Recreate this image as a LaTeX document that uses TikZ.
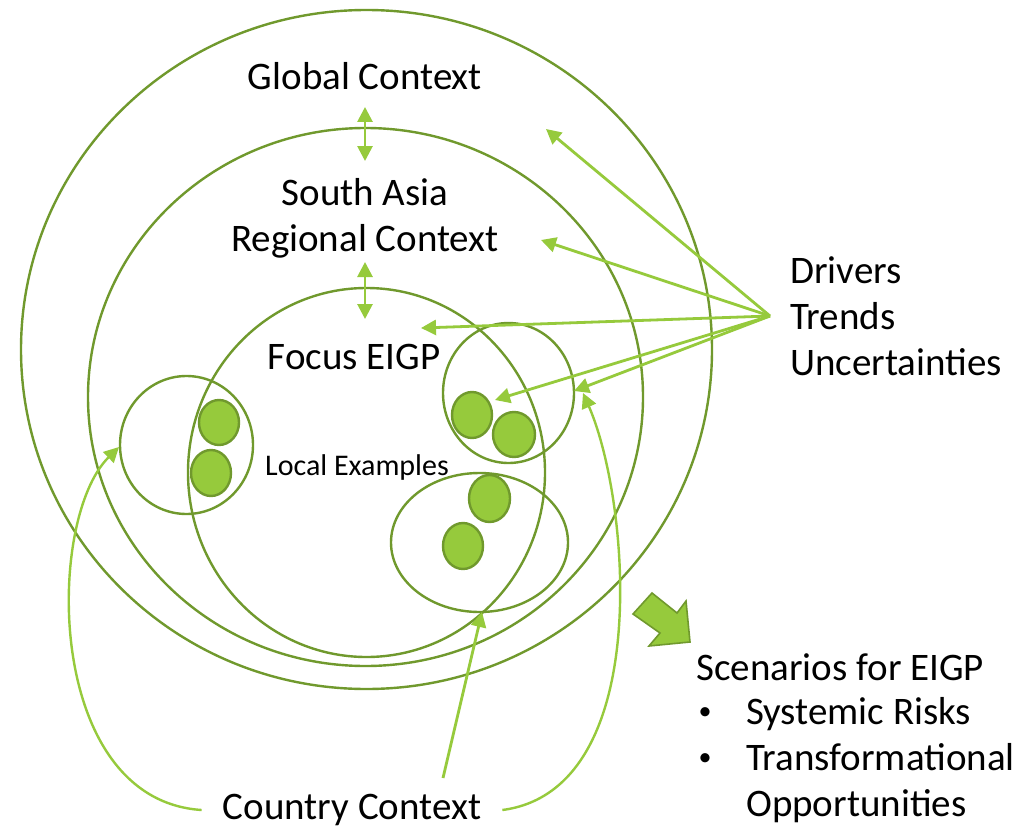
\documentclass[tikz,border=0pt]{standalone}
\usepackage{fontspec}
\setmainfont{Carlito}
\usetikzlibrary{shapes.geometric,arrows.meta}
\definecolor{ringgreen}{RGB}{112,153,45}
\definecolor{arrowgreen}{RGB}{150,202,60}
\begin{document}
\begin{tikzpicture}[x=1pt,y=-1pt,
  ring/.style={draw=ringgreen,line width=2.4pt,ellipse,inner sep=0pt},
  blob/.style={draw=ringgreen,line width=2.4pt,fill=arrowgreen,ellipse,inner sep=0pt},
  conn/.style={draw=arrowgreen,line width=2.8pt,-{Triangle[length=15pt,width=15pt]}},
  dconn/.style={draw=arrowgreen,line width=2.8pt,{Triangle[length=15pt,width=15pt]}-{Triangle[length=15pt,width=15pt]}},
  curve/.style={draw=arrowgreen,line width=2.4pt},
  big/.style={font=\fontsize{39}{46}\selectfont,inner sep=0pt},
  bul/.style={font=\fontsize{26}{30}\selectfont,inner sep=0pt},
  small/.style={font=\fontsize{30}{34}\selectfont,inner sep=0pt}]
\useasboundingbox (0,0) rectangle (1030,832);
\fill[white] (0,0) rectangle (1030,832);
% rings
\node[ring,minimum width=691pt,minimum height=679pt] (outer) at (366.5,349.5) {};
\node[ring,minimum width=555pt,minimum height=538pt] (region) at (365.5,397) {};
\node[ring,minimum width=357pt,minimum height=369pt] (focus) at (366.5,472.5) {};
\node[ring,minimum width=131pt,minimum height=140pt] (rsmall) at (508.5,393) {};
\node[ring,minimum width=133pt,minimum height=138pt] (lsmall) at (186.5,445) {};
\node[ring,minimum width=177pt,minimum height=139pt] (bsmall) at (479.5,542.5) {};
% blobs
\node[blob,minimum width=40pt,minimum height=46pt] (r1) at (472,415) {};
\node[blob,minimum width=42pt,minimum height=45pt] (r2) at (514,434.5) {};
\node[blob,minimum width=40pt,minimum height=45pt] (l1) at (219,422.5) {};
\node[blob,minimum width=40pt,minimum height=46pt] (l2) at (211,473) {};
\node[blob,minimum width=41pt,minimum height=47pt] (b1) at (489.5,498.5) {};
\node[blob,minimum width=40pt,minimum height=46pt] (b2) at (463,546) {};
% texts
\node[big] (glob) at (365,76) {Global Context};
\node[big,align=center] (sa) at (365,218) {South Asia\\Regional Context};
\node[big] (foc) at (354,357) {Focus EIGP};
\node[small] (loc) at (357,467) {Local Examples};
\node[big,align=left,anchor=west] (drv) at (790,316) {Drivers\\Trends\\Uncertainties};
\node[big,anchor=west] (scen) at (696,667) {Scenarios for EIGP};
\node[bul] (b1t) at (705,714) {\textbullet};
\node[big,anchor=west] (sr) at (746,714) {Systemic Risks};
\node[bul] (b2t) at (705,760) {\textbullet};
\node[big,align=left,anchor=west] (to) at (746,783) {Transformational\\Opportunities};
\node[big,inner xsep=21pt] (cc) at (352,810) {Country Context};
% double arrows
\coordinate (g1) at (365,107);
\coordinate (g2) at (365,161);
\coordinate (s1) at (365,262);
\coordinate (s2) at (365,319);
\draw[dconn] (g1) -- (g2);
\draw[dconn] (s1) -- (s2);
% driver arrows
\coordinate (src) at (770,316);
\coordinate (t1) at (546,129);
\coordinate (t2) at (541,240);
\coordinate (t3) at (421,328);
\coordinate (t4) at (495,400);
\coordinate (t5) at (574,391);
\foreach \t in {t1,t2,t3,t4,t5} \draw[conn] (src) -- (\t);
% country arrows
\coordinate (ctop) at (443,778);
\coordinate (cl) at (119,447);
\coordinate (cb) at (482,612);
\coordinate (cr) at (583,393);
\draw[curve,-{Triangle[length=15pt,width=15pt]}] (cc.west) .. controls (45,800) and (45,520) .. (cl);
\draw[conn] (ctop) -- (cb);
\draw[curve,-{Triangle[length=15pt,width=15pt]}] (cc.east) .. controls (655,790) and (630,500) .. (cr);
% big arrow
\draw[draw=ringgreen,fill=arrowgreen,line width=1.6pt,line join=miter]
  (633,614) -- (652,593) -- (677,613) -- (686,601) -- (690,642) -- (649,646) -- (660,633) -- cycle;
\end{tikzpicture}
\end{document}
